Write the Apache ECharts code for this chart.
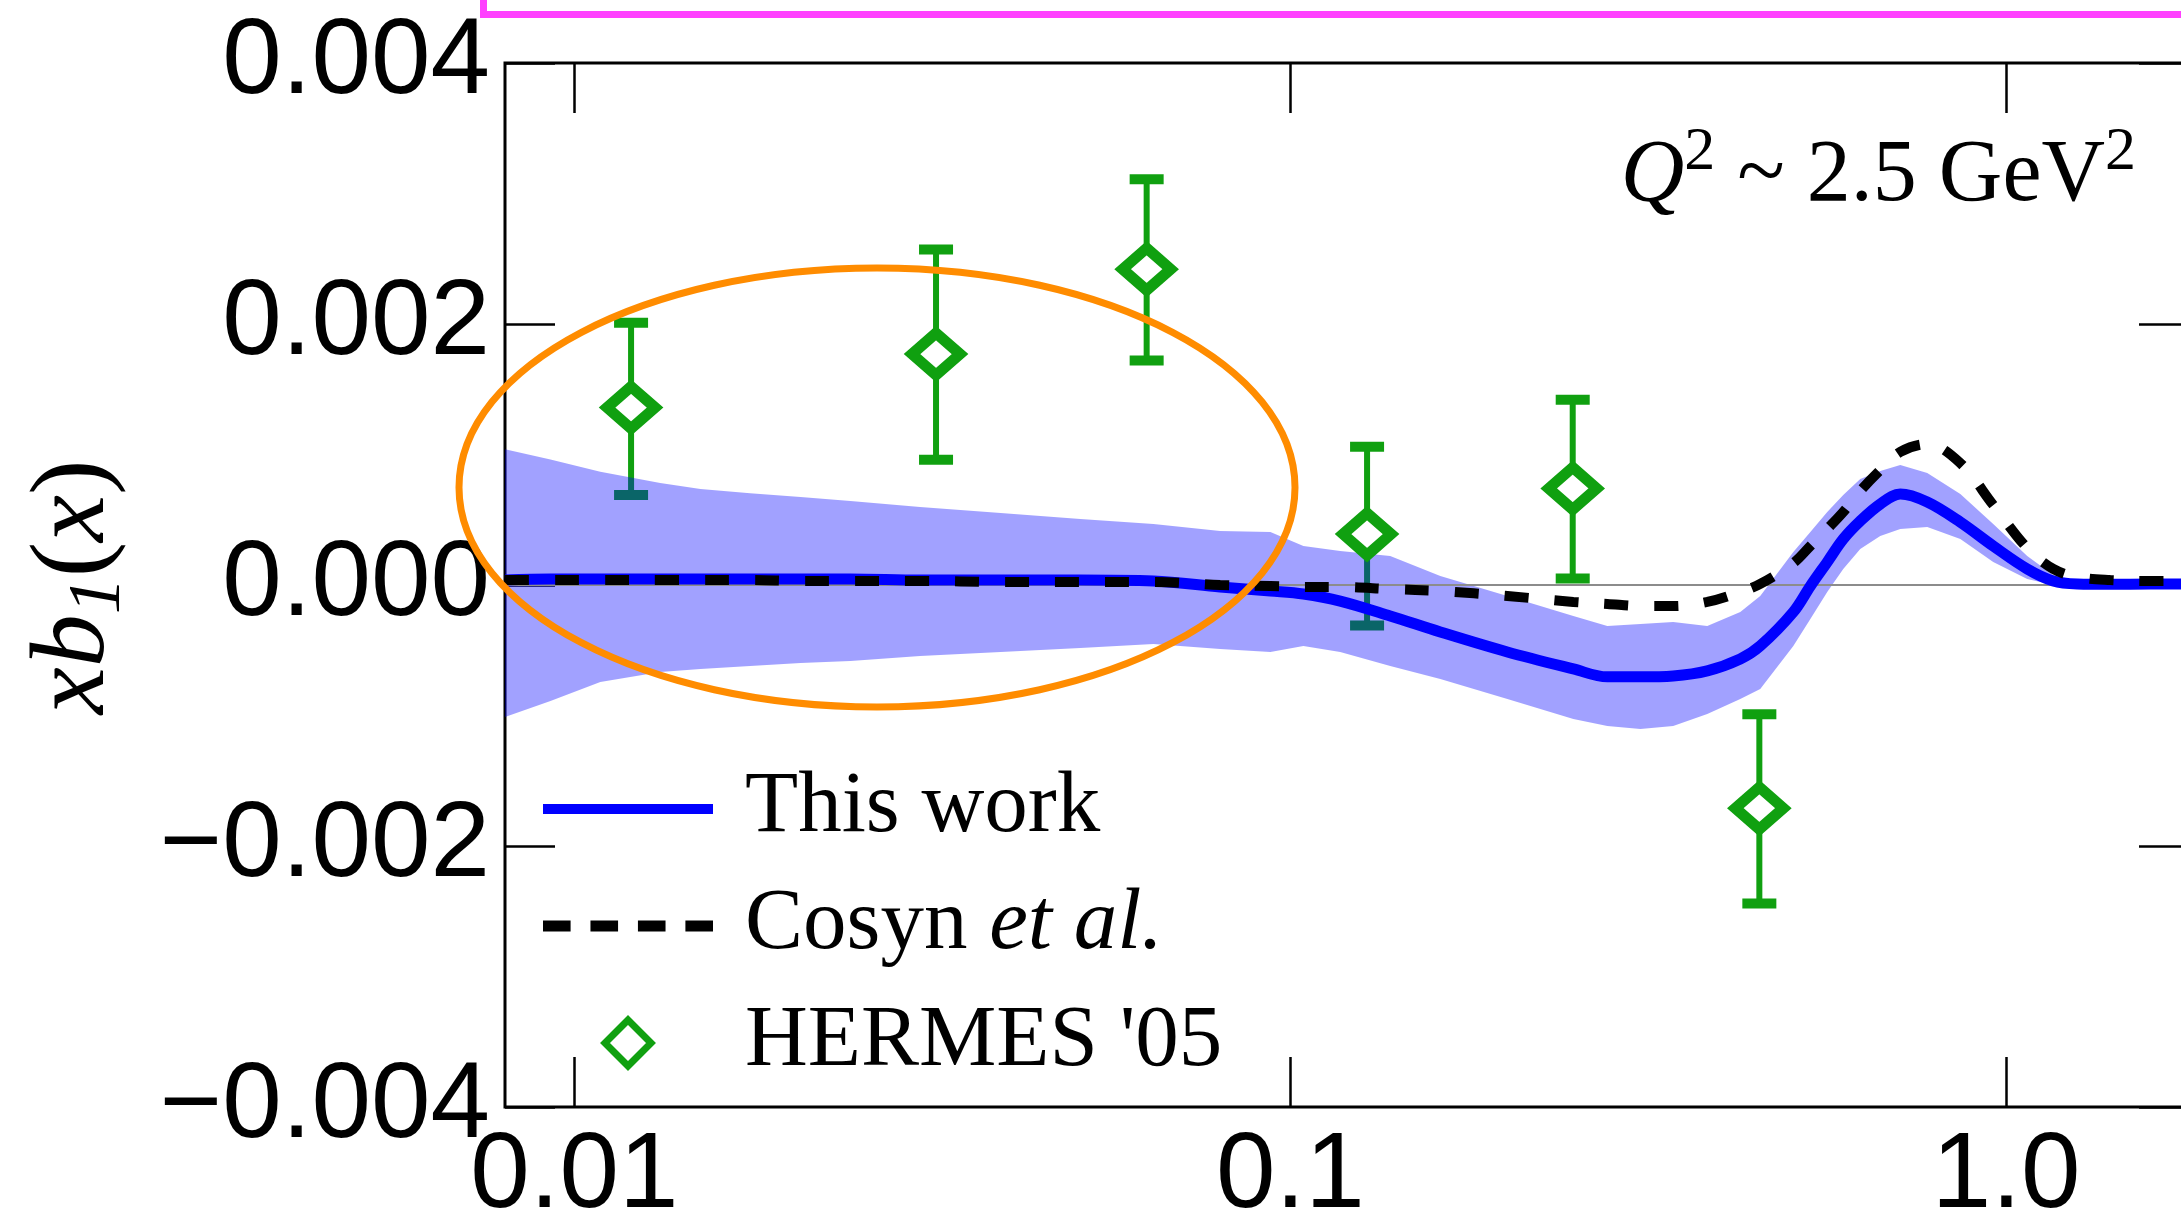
<!DOCTYPE html>
<html>
<head>
<meta charset="utf-8">
<script src="https://cdn.jsdelivr.net/npm/echarts@6/dist/echarts.min.js"></script>
<style>
html,body{margin:0;padding:0;background:#fff;}
#chart{width:2181px;height:1227px;}
</style>
</head>
<body>
<div id="chart"></div>
<script>
// ---------------- data ----------------
const xTickValues = [0.01, 0.1, 1.0];
const xTickLabels = ['0.01', '0.1', '1.0'];
const xMin = 0.008, xMax = 1.8;
const yMin = -0.004, yMax = 0.004, yStep = 0.002;

const curveX = [0.008, 0.00926, 0.01087, 0.01318, 0.0150, 0.0176, 0.0207, 0.0243, 0.0304, 0.0394,
  0.0509, 0.0644, 0.0798, 0.0938, 0.1043, 0.1174, 0.1379, 0.162, 0.201, 0.2485,
  0.2772, 0.3083, 0.3426, 0.3823, 0.4251, 0.4533, 0.5042, 0.5326, 0.5623, 0.592,
  0.6253, 0.6668, 0.7112, 0.7757, 0.8627, 0.959, 1.0698, 1.163, 1.2565, 1.397, 1.589, 1.8];

const thisWork = [0.000038, 0.000046, 0.000046, 0.000046, 0.000046, 0.000046, 0.000046, 0.000046, 0.000038, 0.000038,
  0.000038, 0.000031, -0.000015, -0.000046, -0.000069, -0.000123, -0.000237, -0.00036, -0.000513, -0.000643,
  -0.000704, -0.000704, -0.000697, -0.000658, -0.000567, -0.000467, -0.000207, -0.000008, 0.000176, 0.000352,
  0.00049, 0.00062, 0.000697, 0.000636, 0.000482, 0.000299, 0.000123, 0.000031, 0.000008, 0.000005, 0.000008, 0.000008];

const bandUpper = [0.001041, 0.000961, 0.000868, 0.000781, 0.000735, 0.000704, 0.000674, 0.000643, 0.000597, 0.000551,
  0.000505, 0.000467, 0.000413, 0.000406, 0.000299, 0.00026, 0.000222, 0.000069, -0.000084, -0.000237,
  -0.000314, -0.000299, -0.000283, -0.000314, -0.000207, -0.000084, 0.000253, 0.000406, 0.000559, 0.000689,
  0.000812, 0.000873, 0.000919, 0.000858, 0.000697, 0.000467, 0.000222, 0.000077, 0.000031, 0.000023, 0.000023, 0.000023];

const bandLower = [-0.001011, -0.000888, -0.000743, -0.000666, -0.000643, -0.00062, -0.000597, -0.000582, -0.000544, -0.000513,
  -0.000482, -0.000452, -0.00049, -0.000513, -0.000467, -0.000513, -0.00062, -0.00072, -0.000873, -0.001026,
  -0.00108, -0.001103, -0.00108, -0.000988, -0.000873, -0.000796, -0.000467, -0.00026, -0.000054, 0.000123,
  0.000276, 0.000375, 0.000429, 0.000444, 0.000352, 0.000176, 0.000046, 0.0, -0.000015, -0.000008, -0.000008, -0.000008];

const cosyn = [0.000038, 0.000038, 0.000038, 0.000038, 0.000038, 0.000038, 0.000031, 0.000031, 0.000031, 0.000023,
  0.000023, 0.000023, 0.0, -0.000008, -0.000015, -0.000015, -0.000031, -0.000046, -0.000084, -0.00013,
  -0.000145, -0.000161, -0.000161, -0.00013, -0.000054, 0.000008, 0.000168, 0.000299, 0.000429, 0.000559,
  0.00072, 0.00088, 0.00102, 0.00108, 0.000934, 0.000613, 0.000283, 0.000123, 0.000061, 0.000038, 0.000031, 0.000031];

const hermesX = [0.012, 0.032, 0.063, 0.128, 0.248, 0.452];
const hermesY = [0.00136, 0.00177, 0.00242, 0.00039, 0.00074, -0.00171];
const hermesHigh = [0.00201, 0.00257, 0.00311, 0.00106, 0.00142, -0.00099];
const hermesLow = [0.00069, 0.00096, 0.00172, -0.00031, 0.00005, -0.00244];

const seriesNames = ['This work', 'Cosyn et al.', "HERMES '05"];

// ---------------- styling ----------------
const GREEN = '#10a010';
const BLUE = '#0000ff';
const lg = v => Math.log10(v);
const sansFont = 'Liberation Sans';
const serifFont = 'Liberation Serif';

function xLabel(v) {
  for (let i = 0; i < xTickValues.length; i++) {
    if (Math.abs(lg(xTickValues[i]) - v) < 1e-6) return xTickLabels[i];
  }
  return '';
}
function yLabel(v) {
  if (Math.abs(v) < 1e-9) return '0.000';
  const s = Math.abs(v).toFixed(3);
  return v < 0 ? '\u2212' + s : s;
}

const tickStyle = { show: true, inside: true, length: 50, lineStyle: { color: '#000', width: 2.5 } };
const noLine = { show: false, onZero: false };
const xTickPos = xTickValues.map(lg);

const chart = echarts.init(document.getElementById('chart'));

const option = {
  animation: false,
  backgroundColor: '#fff',
  grid: {
    left: 505, top: 63, right: -8, bottom: 120,
    outerBoundsMode: 'none', containLabel: false,
    show: true, borderColor: '#000', borderWidth: 3, backgroundColor: 'transparent'
  },
  xAxis: [
    {
      type: 'value', min: lg(xMin), max: lg(xMax), position: 'bottom',
      axisLine: noLine, splitLine: { show: false },
      axisTick: Object.assign({ customValues: xTickPos }, tickStyle),
      axisLabel: { show: true, customValues: xTickPos, formatter: xLabel, margin: 17, color: '#000', fontFamily: sansFont, fontSize: 107 }
    },
    {
      type: 'value', min: lg(xMin), max: lg(xMax), position: 'top',
      axisLine: noLine, splitLine: { show: false },
      axisTick: Object.assign({ customValues: xTickPos }, tickStyle),
      axisLabel: { show: false }
    }
  ],
  yAxis: [
    {
      type: 'value', min: yMin, max: yMax, interval: yStep, position: 'left',
      axisLine: noLine, splitLine: { show: false },
      axisTick: tickStyle,
      axisLabel: { formatter: yLabel, margin: 15, color: '#000', fontFamily: sansFont, fontSize: 107 }
    },
    {
      type: 'value', min: yMin, max: yMax, interval: yStep, position: 'right',
      axisLine: noLine, splitLine: { show: false },
      axisTick: tickStyle,
      axisLabel: { show: false }
    }
  ],
  legend: {
    orient: 'vertical', left: 543, top: 758, padding: 0,
    itemWidth: 170, itemHeight: 46, itemGap: 15,
    selectedMode: false,
    textStyle: {
      fontFamily: serifFont, fontSize: 87, color: '#000', lineHeight: 100, padding: [0, 0, 2, 27],
      rich: {
        n: { fontFamily: serifFont, fontSize: 87, color: '#000', lineHeight: 100 },
        i: { fontFamily: serifFont, fontSize: 87, fontStyle: 'italic', color: '#000', lineHeight: 100 }
      }
    },
    formatter: name => name === 'Cosyn et al.' ? '{n|Cosyn }{i|et al.}' : name,
    data: [
      { name: seriesNames[0], icon: 'path://M0,0H170V10H0Z', itemStyle: { color: BLUE, borderWidth: 0 } },
      { name: seriesNames[1], icon: 'path://M0,0H25V10H0Z M43,0H68V10H43Z M86,0H111V10H86Z M129,0H154V10H129Z', itemStyle: { color: '#000', borderWidth: 0 } },
      { name: seriesNames[2], icon: 'path://M0,-1L1,0L0,1L-1,0Z', itemStyle: { borderWidth: 7, color: '#fff', borderColor: GREEN } }
    ]
  },
  series: [
    {
      name: 'hermes-errors', type: 'custom', z: 2, clip: true,
      data: hermesX.map((x, i) => [lg(x), hermesHigh[i], hermesLow[i]]),
      encode: { x: 0, y: [1, 2] },
      renderItem: function (params, api) {
        const x = api.value(0);
        const pHi = api.coord([x, api.value(1)]);
        const pLo = api.coord([x, api.value(2)]);
        const cw = 17;
        return {
          type: 'group',
          children: [
            { type: 'line', shape: { x1: pHi[0], y1: pHi[1], x2: pLo[0], y2: pLo[1] }, style: { stroke: GREEN, lineWidth: 6 } },
            { type: 'line', shape: { x1: pHi[0] - cw, y1: pHi[1], x2: pHi[0] + cw, y2: pHi[1] }, style: { stroke: GREEN, lineWidth: 10 } },
            { type: 'line', shape: { x1: pLo[0] - cw, y1: pLo[1], x2: pLo[0] + cw, y2: pLo[1] }, style: { stroke: GREEN, lineWidth: 10 } }
          ]
        };
      }
    },
    {
      name: 'band', type: 'custom', z: 3, clip: true,
      data: curveX.map((x, i) => [lg(x), bandUpper[i], bandLower[i]]),
      encode: { x: 0, y: [1, 2] },
      renderItem: function (params, api) {
        if (params.dataIndex !== 0) return null;
        const pts = [];
        for (let i = 0; i < curveX.length; i++) pts.push(api.coord([lg(curveX[i]), bandUpper[i]]));
        for (let i = curveX.length - 1; i >= 0; i--) pts.push(api.coord([lg(curveX[i]), bandLower[i]]));
        return { type: 'polygon', shape: { points: pts }, style: { fill: 'rgba(0,0,255,0.37)', stroke: null } };
      },
      markLine: {
        silent: true, symbol: 'none', label: { show: false },
        lineStyle: { color: '#8c8c8c', width: 2, type: 'solid' },
        data: [{ yAxis: 0 }]
      }
    },
    {
      name: seriesNames[0], type: 'line', z: 6,
      data: curveX.map((x, i) => [lg(x), thisWork[i]]),
      symbol: 'none', showSymbol: false, smooth: 0.35,
      lineStyle: { color: BLUE, width: 11 }, itemStyle: { color: BLUE }
    },
    {
      name: seriesNames[1], type: 'line', z: 7,
      data: curveX.map((x, i) => [lg(x), cosyn[i]]),
      symbol: 'none', showSymbol: false, smooth: 0.35,
      lineStyle: { color: '#000', width: 10, type: [24, 26] }, itemStyle: { color: '#000' }
    },
    {
      name: seriesNames[2], type: 'scatter', z: 8,
      data: hermesX.map((x, i) => [lg(x), hermesY[i]]),
      symbol: 'diamond', symbolSize: [48, 42],
      itemStyle: { color: '#fff', borderColor: GREEN, borderWidth: 11, opacity: 1 }
    }
  ],
  graphic: [
    {
      type: 'rect', silent: true, z: 50,
      shape: { x: 483.5, y: -40, width: 2000, height: 54.5 },
      style: { fill: 'none', stroke: '#ff40ff', lineWidth: 7 }
    },
    {
      type: 'ellipse', silent: true, z: 60,
      shape: { cx: 877, cy: 487.5, rx: 418, ry: 219.5 },
      style: { fill: 'none', stroke: '#ff8c00', lineWidth: 7 }
    },
    {
      type: 'text', silent: true, z: 60, x: 2136, y: 232,
      style: {
        text: '{q|Q}{s|2}{n| ~ 2.5 GeV}{s|2}',
        align: 'right', verticalAlign: 'bottom',
        rich: {
          q: { fontFamily: serifFont, fontStyle: 'italic', fontSize: 88, lineHeight: 110, fill: '#000' },
          n: { fontFamily: serifFont, fontSize: 88, lineHeight: 110, fill: '#000' },
          s: { fontFamily: serifFont, fontSize: 62, lineHeight: 60, verticalAlign: 'top', fill: '#000' }
        }
      }
    },
    {
      type: 'text', silent: true, z: 60, x: 75, y: 587, rotation: Math.PI / 2,
      style: {
        text: '{i|xb}{b|1}{p|(}{i|x}{p|)}',
        align: 'center', verticalAlign: 'middle',
        rich: {
          i: { fontFamily: serifFont, fontStyle: 'italic', fontSize: 106, lineHeight: 124, fill: '#000' },
          p: { fontFamily: serifFont, fontSize: 106, lineHeight: 124, fill: '#000' },
          b: { fontFamily: serifFont, fontStyle: 'italic', fontSize: 74, lineHeight: 66, verticalAlign: 'bottom', fill: '#000' }
        }
      }
    }
  ]
};

chart.setOption(option);
</script>
</body>
</html>
